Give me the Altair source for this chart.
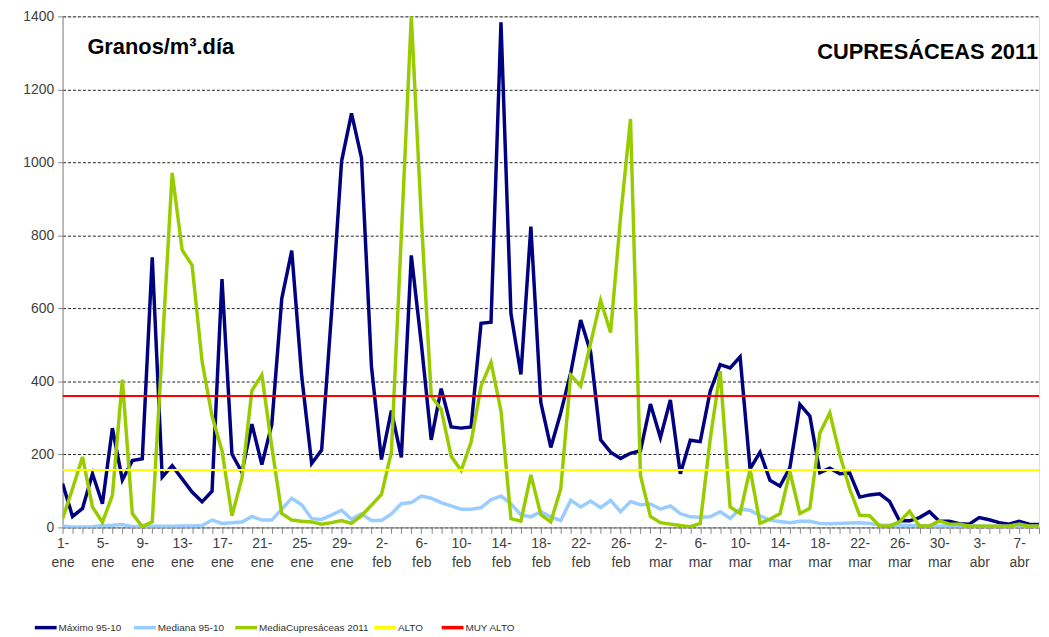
import json
import altair as alt
import pandas as pd

# ---- data ----
maximo = [120, 30, 52, 147, 65, 272, 130, 183, 188, 740,
          138, 169, 133, 97, 70, 99, 680, 201, 151, 283,
          172, 282, 627, 758, 414, 175, 212, 590, 1003, 1134,
          1012, 441, 186, 320, 192, 745, 505, 240, 380, 275,
          272, 275, 559, 562, 1384, 586, 419, 824, 342, 219,
          314, 423, 568, 480, 240, 206, 189, 203, 210, 338,
          246, 349, 147, 239, 235, 373, 446, 437, 467, 160,
          206, 129, 113, 164, 337, 305, 150, 162, 147, 149,
          83, 89, 92, 71, 18, 18, 27, 43, 17, 17,
          10, 9, 27, 21, 13, 9, 17, 9, 8]
mediana = [4, 1, 1, 2, 5, 6, 8, 2, 3, 3,
           3, 3, 4, 4, 5, 20, 11, 13, 15, 30,
           20, 20, 50, 80, 62, 24, 22, 34, 47, 22,
           37, 19, 19, 37, 65, 68, 86, 80, 68, 59,
           50, 50, 54, 76, 86, 65, 34, 29, 43, 29,
           19, 74, 56, 72, 54, 74, 43, 71, 62, 64,
           50, 59, 38, 29, 28, 29, 43, 25, 50, 47,
           32, 20, 16, 13, 17, 17, 11, 10, 11, 12,
           13, 11, 6, 6, 6, 5, 5, 4, 4, 4,
           4, 4, 4, 3, 3, 3, 3, 3, 3]
media_2011 = [24, 106, 193, 56, 14, 88, 405, 38, 2, 15,
              490, 971, 760, 718, 455, 305, 210, 32, 135, 375,
              418, 220, 38, 20, 17, 15, 9, 13, 19, 11,
              32, 61, 90, 206, 800, 1400, 850, 360, 323, 195,
              156, 233, 387, 452, 319, 24, 17, 144, 35, 15,
              106, 417, 387, 505, 622, 534, 849, 1119, 142, 30,
              13, 9, 5, 2, 11, 242, 428, 56, 38, 160,
              11, 23, 37, 153, 38, 52, 258, 314, 200, 105,
              33, 32, 4, 4, 15, 44, 4, 4, 18, 9,
              9, 4, 3, 3, 3, 4, 9, 3, 3]
alto = 157
muy_alto = 360

tick_labels = ["1-\nene", "5-\nene", "9-\nene", "13-\nene", "17-\nene", "21-\nene",
               "25-\nene", "29-\nene", "2-\nfeb", "6-\nfeb", "10-\nfeb", "14-\nfeb",
               "18-\nfeb", "22-\nfeb", "26-\nfeb", "2-\nmar", "6-\nmar", "10-\nmar",
               "14-\nmar", "18-\nmar", "22-\nmar", "26-\nmar", "30-\nmar", "3-\nabr",
               "7-\nabr"]

series_names = ["Máximo 95-10", "Mediana 95-10", "MediaCupresáceas  2011", "ALTO", "MUY ALTO"]
series_colors = ["#000080", "#99CCFF", "#99CC00", "#FFFF00", "#FF0000"]
series_widths = [3.5, 3.5, 3.5, 2, 2]

# legend layout (pixel positions relative to the plot area)
legend_sym_x = [-28, 72, 174, 314, 382]
legend_sym_len = 22
legend_y = 616

n = len(maximo)
rows = []
for i in range(n):
    rows.append({"dia": i, "serie": series_names[0], "valor": maximo[i]})
    rows.append({"dia": i, "serie": series_names[1], "valor": mediana[i]})
    rows.append({"dia": i, "serie": series_names[2], "valor": media_2011[i]})
    rows.append({"dia": i, "serie": series_names[3], "valor": alto})
    rows.append({"dia": i, "serie": series_names[4], "valor": muy_alto})
df = pd.DataFrame(rows)

leg = pd.DataFrame({
    "serie": series_names,
    "x1": legend_sym_x,
    "x2": [v + legend_sym_len for v in legend_sym_x],
    "tx": [v + legend_sym_len + 2 for v in legend_sym_x],
})

label_arrays = json.dumps([t.split("\n") for t in tick_labels])
label_expr = f"datum.value % 4 == 0 ? {label_arrays}[floor(datum.value / 4)] : ''"

color_scale = alt.Scale(domain=series_names, range=series_colors)

x_enc = alt.X("dia:Q",
              scale=alt.Scale(domain=[0, n - 1], nice=False, zero=False),
              axis=alt.Axis(values=list(range(n)), labelExpr=label_expr, title=None,
                            grid=False, tickSize=6, tickColor="#868686",
                            domainColor="#868686", labelOverlap=False,
                            labelFlush=False, labelBound=False, labelPadding=3,
                            labelLineHeight=19, labelColor="#404040",
                            labelFontSize=14, labelFont="Liberation Sans"))
y_enc = alt.Y("valor:Q",
              scale=alt.Scale(domain=[0, 1400], nice=False),
              axis=alt.Axis(values=list(range(0, 1401, 200)), title=None, format="d",
                            grid=True, gridDash=[3, 2], gridColor="#222222",
                            gridWidth=1, tickSize=5, tickColor="#868686",
                            domainColor="#868686", labelColor="#404040",
                            labelFontSize=14, labelFont="Liberation Sans",
                            labelPadding=4))
color_enc = alt.Color("serie:N", scale=color_scale, legend=None)

layers = []
for name, w in zip(series_names, series_widths):
    layers.append(
        alt.Chart(df).transform_filter(alt.datum.serie == name)
        .mark_line(strokeWidth=w, clip=True)
        .encode(x=x_enc, y=y_enc, color=color_enc)
    )

leg_rules = alt.Chart(leg).mark_rule(strokeWidth=3.5).encode(
    x=alt.X("x1:Q", scale=None), x2="x2:Q", y=alt.value(legend_y),
    color=color_enc)

leg_text = alt.Chart(leg).mark_text(
    align="left", baseline="middle", fontSize=10, font="Liberation Sans",
    color="#333333"
).encode(x=alt.X("tx:Q", scale=None), y=alt.value(legend_y), text="serie:N")

t1 = alt.Chart(pd.DataFrame({"t": ["Granos/m³.día"]})).mark_text(
    align="left", baseline="alphabetic", fontSize=22, fontWeight="bold",
    font="Liberation Sans", color="#000000"
).encode(text="t:N", x=alt.value(25), y=alt.value(38))

t2 = alt.Chart(pd.DataFrame({"t": ["CUPRESÁCEAS 2011"]})).mark_text(
    align="right", baseline="alphabetic", fontSize=22, fontWeight="bold",
    font="Liberation Sans", color="#000000"
).encode(text="t:N", x=alt.value(983), y=alt.value(43))

chart = alt.layer(*layers, leg_rules, leg_text, t1, t2).properties(
    width=984, height=515,
    autosize=alt.AutoSizeParams(type="none"),
    padding={"left": 55, "top": 6, "right": 2, "bottom": 105},
).configure_view(stroke=None).configure(background="white")

chart.save("out.html", embed_options={"renderer": "svg", "actions": False})
